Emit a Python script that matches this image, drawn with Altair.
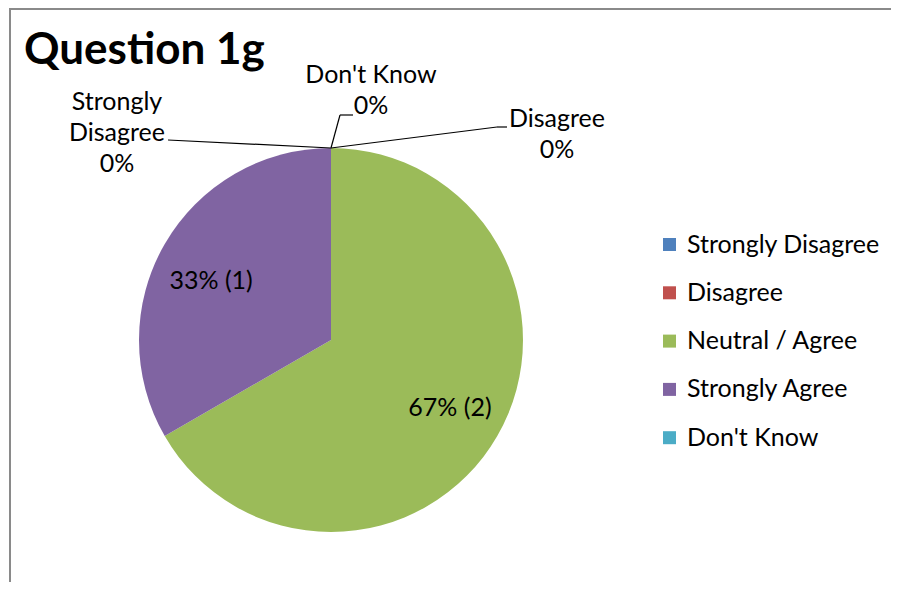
import altair as alt
import pandas as pd

categories = ["Strongly Disagree", "Disagree", "Neutral / Agree", "Strongly Agree", "Don't Know"]
counts = [0, 0, 2, 1, 0]
colors = ["#4F81BD", "#C0504D", "#9BBB59", "#8064A2", "#4BACC6"]
title_text = "Question 1g"
zero_label_names = {
    "Strongly Disagree": "Strongly\nDisagree",
    "Disagree": "Disagree",
    "Don't Know": "Don't Know",
}

total = sum(counts)
labels = []
for c, n in zip(categories, counts):
    pct = round(100 * n / total)
    if n > 0:
        labels.append(f"{pct}% ({n})")
    else:
        labels.append(f"{zero_label_names.get(c, c)}\n{pct}%")

df = pd.DataFrame({
    "category": categories,
    "count": counts,
    "idx": list(range(len(categories))),
    "label": labels,
})

FONT = "Lato"
FS = 25
CX, CY, R = 323, 332, 192
H = 574

base = alt.Chart(df).transform_window(
    cum="sum(count)", sort=[alt.SortField("idx")], frame=[None, 0]
).transform_calculate(mid="datum.cum - datum.count / 2")

pie = base.mark_arc(outerRadius=R).encode(
    theta=alt.Theta("count:Q", stack=True),
    color=alt.Color(
        "category:N",
        scale=alt.Scale(domain=categories, range=colors),
        sort=categories,
        legend=alt.Legend(
            title=None, orient="none", legendX=649, legendY=224,
            symbolType="square", symbolSize=169, symbolStrokeWidth=0,
            labelFont=FONT, labelFontSize=FS, labelColor="#000000",
            rowPadding=22.3, labelOffset=5, padding=0, labelLimit=400,
        ),
    ),
    order=alt.Order("idx:Q"),
    x=alt.value(CX), y=alt.value(CY),
)

def txt(cat, dx=0, dy=0, radius=0):
    return base.transform_filter(alt.datum.category == cat).mark_text(
        font=FONT, fontSize=FS, color="#000000", align="center", baseline="middle",
        lineBreak="\n", lineHeight=31, dx=dx, dy=dy, radius=radius,
    ).encode(
        theta=alt.Theta("mid:Q", stack=None),
        text="label:N",
        x=alt.value(CX), y=alt.value(CY),
    )

inner = [txt("Neutral / Agree", dx=2, radius=135), txt("Strongly Agree", dx=-3, dy=8, radius=135)]
outer = [
    txt("Strongly Disagree", dx=-214, dy=-46, radius=R),
    txt("Don't Know", dx=40, dy=-73, radius=R),
    txt("Disagree", dx=226, dy=-29, radius=R),
]

one = alt.Data(values=[{"k": 0}])

def seg(x1, y1, x2, y2, color="#000000", w=1.2):
    return alt.Chart(one).mark_rule(color=color, strokeWidth=w).encode(
        x=alt.value(x1), y=alt.value(y1), x2=alt.value(x2), y2=alt.value(y2)
    )

leaders = [
    seg(CX, CY - R, 160, 132),
    seg(CX, CY - R, 332, 107), seg(332, 107, 345, 107),
    seg(CX, CY - R, 489, 119), seg(489, 119, 499, 119),
]

frame = [
    seg(1, 1, 883, 1, color="#8a8a8a", w=2),
    seg(2, 0, 2, H, color="#8a8a8a", w=2),
]

title = alt.Chart(one).mark_text(
    font=FONT, fontSize=44, fontWeight="bold", color="#000000",
    align="left", baseline="alphabetic",
).encode(x=alt.value(16), y=alt.value(56), text=alt.value(title_text))

chart = alt.layer(pie, *inner, *outer, *leaders, *frame, title).properties(
    width=883, height=H, autosize=alt.AutoSizeParams(type="none"), padding=0,
    background="white",
).configure_view(stroke=None)

chart.save("out.html", embed_options={"renderer": "svg", "actions": False})
